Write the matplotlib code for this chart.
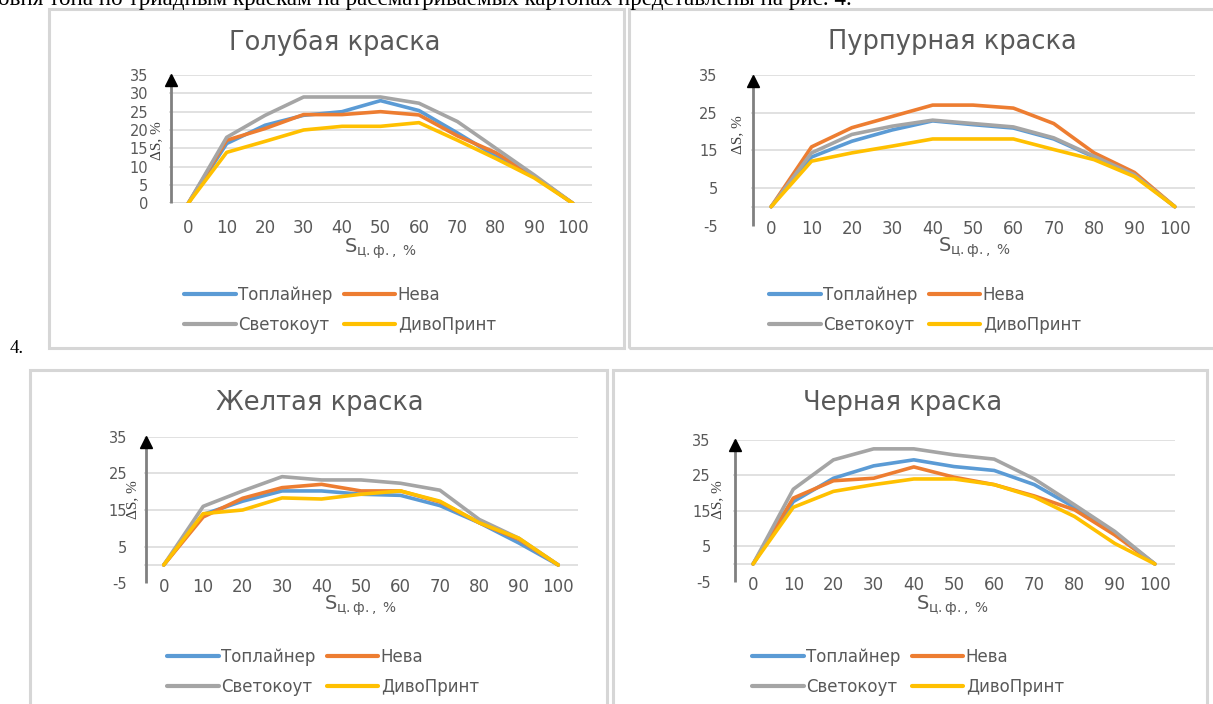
import matplotlib
matplotlib.use("Agg")
import matplotlib.pyplot as plt
from matplotlib.patches import Rectangle

# ---- data -------------------------------------------------------------
s_labels = ["0", "10", "20", "30", "40", "50", "60", "70", "80", "90", "100"]
series_names = ["Топлайнер", "Нева", "Светокоут", "ДивоПринт"]
series_colors = ["#5B9BD5", "#ED7D31", "#A5A5A5", "#FFC000"]

cyan_toplayner = [0, 16.3, 21.3, 24.0, 25.0, 28.0, 25.3, 19.2, 12.8, 7.3, 0]
cyan_neva = [0, 17.2, 20.4, 24.2, 24.2, 25.0, 24.1, 18.4, 13.8, 7.3, 0]
cyan_svetokout = [0, 18.0, 24.0, 29.0, 29.0, 29.0, 27.3, 22.3, 15.0, 7.7, 0]
cyan_divoprint = [0, 13.9, 16.9, 20.0, 21.0, 21.0, 22.0, 17.2, 12.2, 6.9, 0]

magenta_toplayner = [0, 13.2, 17.4, 20.4, 22.8, 21.8, 20.9, 18.0, 13.2, 8.4, 0]
magenta_neva = [0, 15.9, 21.0, 24.0, 27.0, 27.0, 26.2, 22.1, 14.3, 9.1, 0]
magenta_svetokout = [0, 14.3, 19.2, 21.4, 23.0, 22.1, 21.2, 18.3, 13.4, 8.5, 0]
magenta_divoprint = [0, 12.1, 14.3, 16.1, 18.0, 18.0, 18.0, 15.2, 12.5, 8.0, 0]

yellow_toplayner = [0, 13.8, 17.4, 20.2, 20.2, 19.3, 19.0, 16.2, 11.5, 6.0, 0]
yellow_neva = [0, 13.1, 18.2, 21.1, 22.0, 20.2, 20.2, 17.2, 11.5, 7.0, 0]
yellow_svetokout = [0, 16.0, 20.2, 24.1, 23.2, 23.2, 22.3, 20.4, 12.4, 7.3, 0]
yellow_divoprint = [0, 14.0, 15.0, 18.3, 18.0, 19.3, 20.2, 17.4, 11.5, 7.3, 0]

black_toplayner = [0, 17.6, 24.2, 27.7, 29.4, 27.5, 26.4, 22.4, 16.0, 8.7, 0]
black_neva = [0, 18.6, 23.5, 24.2, 27.4, 24.5, 22.4, 19.2, 15.3, 8.2, 0]
black_svetokout = [0, 21.1, 29.4, 32.5, 32.5, 30.8, 29.6, 24.0, 16.7, 9.2, 0]
black_divoprint = [0, 16.0, 20.5, 22.4, 24.0, 24.0, 22.4, 18.9, 13.4, 5.8, 0]

ticks_cyan = [0, 5, 10, 15, 20, 25, 30, 35]
ticks_other = [-5, 5, 15, 25, 35]

# ---- figure -----------------------------------------------------------
W, H = 1213, 704
fig = plt.figure(figsize=(W / 100, H / 100), dpi=100)
fig.patch.set_facecolor("white")

TXT = "#595959"
GRID = "#D9D9D9"
SANS = "DejaVu Sans"
SERIF = "Liberation Serif"


def fx(x):
    return x / W


def fy(y):
    return 1 - y / H


def ptext(x, y, s, **kw):
    return fig.text(fx(x), fy(y), s, **kw)


def frame(x0, y0, x1, y1):
    fig.add_artist(Rectangle((fx(x0), fy(y1)), (x1 - x0) / W, (y1 - y0) / H,
                             transform=fig.transFigure, fill=False,
                             ec="#D6D6D6", lw=2.2, zorder=0))


# running text at the top of the page (its upper part lies above the sheet)
ptext(-2, 5, "овня тона по триадным краскам на рассматриваемых картонах "
      "представлены на рис. 4.", family=SERIF, fontsize=16.6,
      color="black", va="baseline", ha="left")
ptext(10, 348, "4.", family=SERIF, fontsize=13.5, color="black",
      va="center", ha="left")

# panel frames
frame(49, 9, 624, 348)
frame(629, 9, 1216, 348)
frame(30, 370, 607, 710)
frame(613, 370, 1207, 710)


def panel(box, ylim, yticks, grid_vals, data, title, title_xy,
          xlab_xy, ylab_xy, legend_xy, ypad, arrow_bottom):
    left, right, top, bottom = box
    ax = fig.add_axes([fx(left), fy(bottom), (right - left) / W,
                       (bottom - top) / H])
    ax.set_facecolor("none")
    xs = range(len(s_labels))
    handles = []
    for vals, name, col in zip(data, series_names, series_colors):
        ln, = ax.plot(xs, vals, color=col, lw=2.6, label=name,
                      solid_joinstyle="round", solid_capstyle="round",
                      zorder=3)
        handles.append(ln)
    for g in grid_vals:
        ax.axhline(g, color=GRID, lw=1.1, zorder=1)
    ax.axhline(0, color=GRID, lw=1.1, zorder=1)
    ax.set_xlim(-0.5, len(s_labels) - 0.5)
    ax.set_ylim(*ylim)
    ax.set_xticks(list(xs))
    ax.set_xticklabels(s_labels)
    ax.set_yticks(yticks)
    ax.set_yticklabels([str(t) for t in yticks])
    for sp in ax.spines.values():
        sp.set_visible(False)
    xpad = 11 if ylim[0] == 0 else -4
    ax.tick_params(axis="x", length=0, pad=xpad, labelsize=12,
                   labelcolor=TXT)
    ax.tick_params(axis="y", length=0, pad=ypad, labelsize=10.5,
                   labelcolor=TXT)
    for lab in ax.get_xticklabels() + ax.get_yticklabels():
        lab.set_family(SANS)

    # vertical axis drawn as an arrow
    ax.plot([-0.45, -0.45], [arrow_bottom, ylim[1] - 1.4], color="#808080",
            lw=2, clip_on=False, zorder=4, solid_capstyle="butt")
    ax.plot([-0.45], [ylim[1] - 1.5], marker="^", color="black", ms=9,
            clip_on=False, zorder=5)

    ptext(*title_xy, title, family=SANS, fontsize=18.5, color=TXT,
          ha="center", va="center")
    ptext(*xlab_xy, r"S$_{\mathregular{ц.ф.,\ \%}}$", family=SANS,
          fontsize=14, color=TXT, ha="center", va="center")
    ptext(*ylab_xy, "ΔS, %", family=SERIF, fontsize=11, color="#404040",
          ha="center", va="center", rotation=90)

    order = [handles[0], handles[2], handles[1], handles[3]]
    leg = fig.legend(handles=order, labels=[h.get_label() for h in order],
                     ncol=2, loc="center", frameon=False,
                     bbox_to_anchor=(fx(legend_xy[0]), fy(legend_xy[1])),
                     bbox_transform=fig.transFigure,
                     prop={"family": SANS, "size": 12},
                     handlelength=3.1, handletextpad=0.15,
                     columnspacing=0.65, labelspacing=0.7)
    for t in leg.get_texts():
        t.set_color(TXT)
    for h in leg.legend_handles:
        h.set_linewidth(3)
    return ax


panel((169, 592, 75, 203.3), (0, 35), ticks_cyan, ticks_cyan,
      [cyan_toplayner, cyan_neva, cyan_svetokout, cyan_divoprint],
      "Голубая краска", (335, 42), (381, 249), (157, 141), (340, 310),
      15, 0)

panel((751, 1195, 75, 225.5), (-5, 35), ticks_other, [5, 15, 25, 35],
      [magenta_toplayner, magenta_neva, magenta_svetokout, magenta_divoprint],
      "Пурпурная краска", (952, 42), (975, 248), (738, 135), (925, 310),
      24, -5)

panel((144, 578, 436.7, 583.3), (-5, 35), ticks_other, [5, 15, 25, 35],
      [yellow_toplayner, yellow_neva, yellow_svetokout, yellow_divoprint],
      "Желтая краска", (320, 403), (361, 606), (133, 500), (323, 672),
      12, -5)

panel((733, 1175, 440, 581.7), (-5, 35), ticks_other, [5, 15, 25, 35],
      [black_toplayner, black_neva, black_svetokout, black_divoprint],
      "Черная краска", (903, 403), (953, 606), (718, 500), (908, 672),
      16, -5)

fig.savefig("out.png", dpi=100, facecolor="white")
